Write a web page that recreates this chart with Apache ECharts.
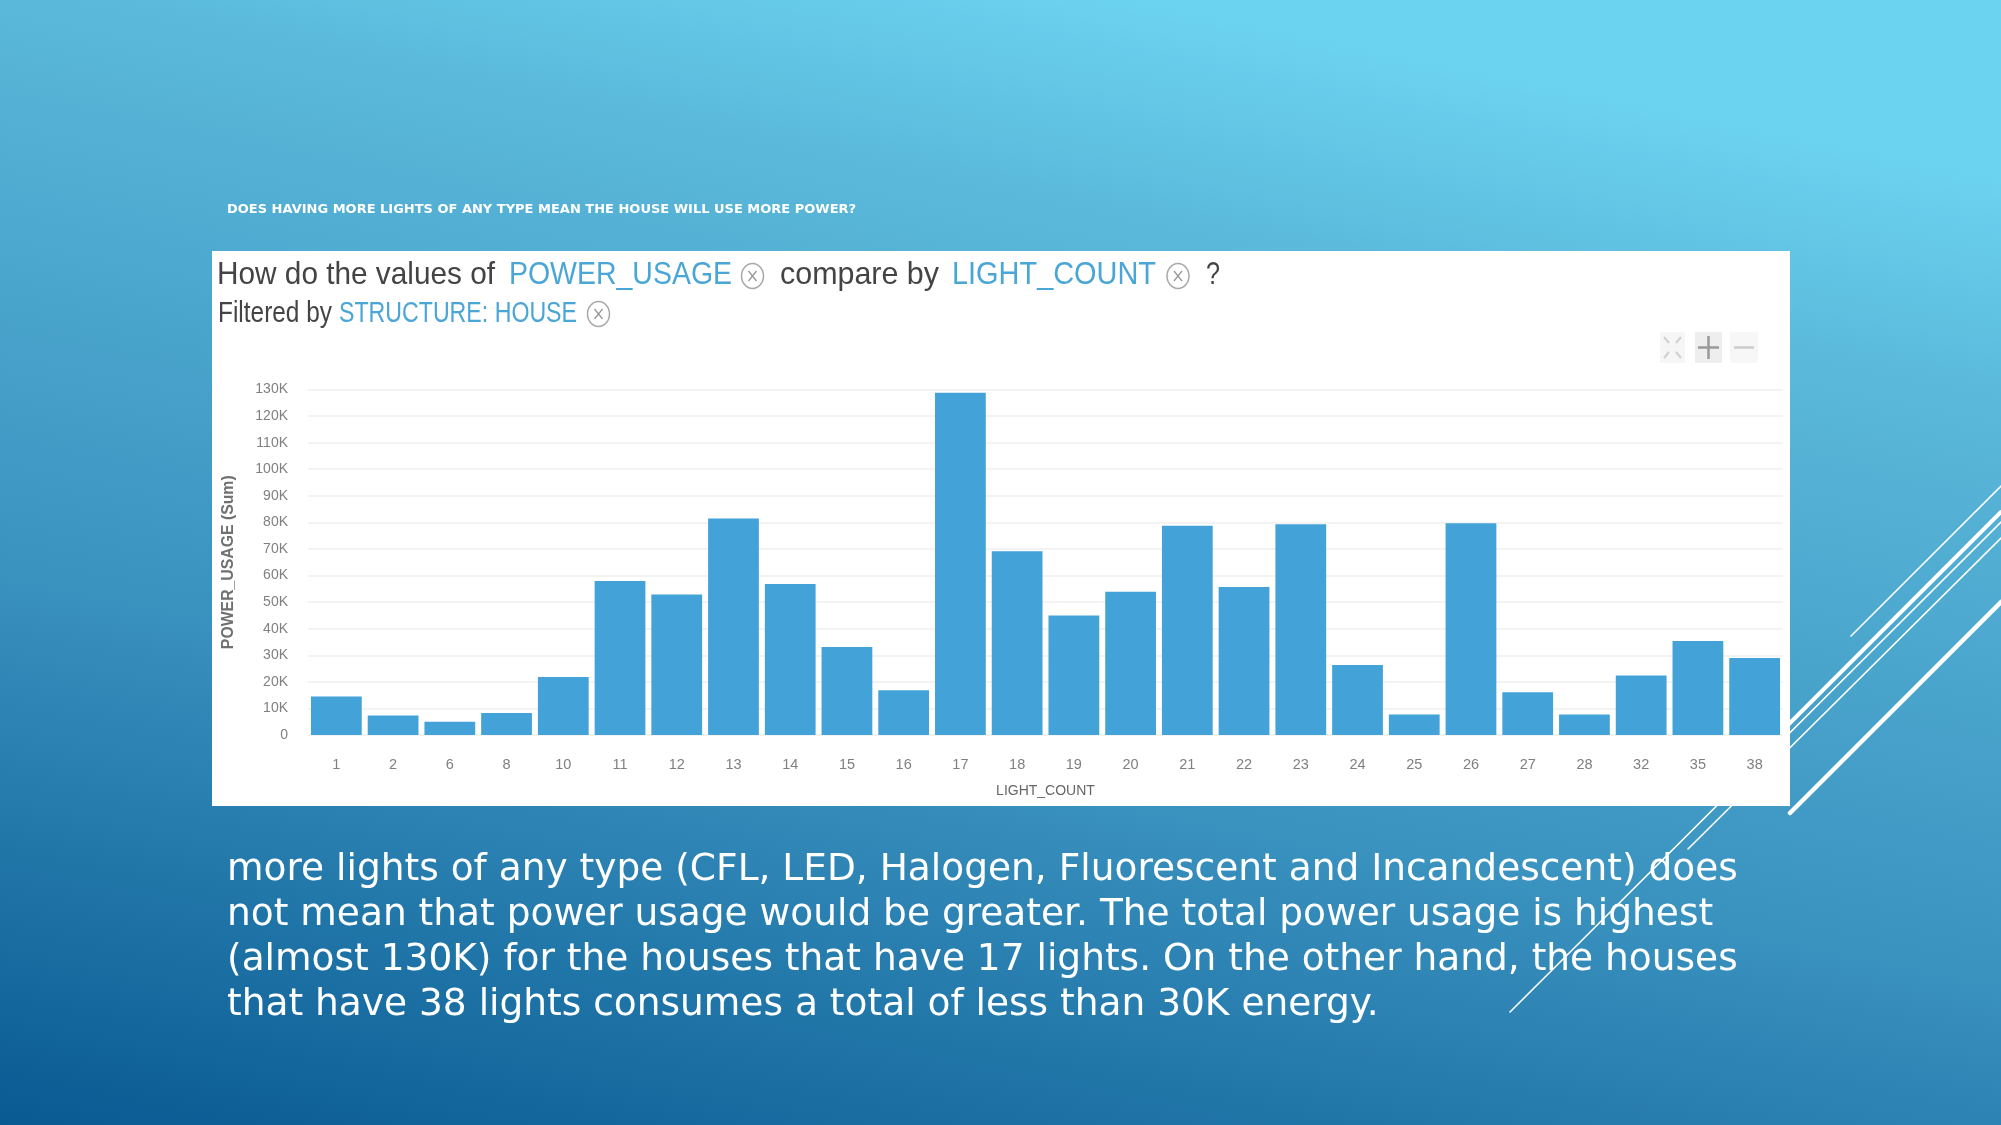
<!DOCTYPE html>
<html>
<head>
<meta charset="utf-8">
<title>Power usage by light count</title>
<script src="https://cdn.jsdelivr.net/npm/echarts@6/dist/echarts.min.js"></script>
<style>
  html, body { margin: 0; padding: 0; }
  #chart { width: 2001px; height: 1125px; }
</style>
</head>
<body>
<div id="chart"></div>
<script>
const lightCounts = ['1', '2', '6', '8', '10', '11', '12', '13', '14', '15', '16', '17', '18', '19', '20', '21', '22', '23', '24', '25', '26', '27', '28', '32', '35', '38'];
const powerUsage = [14500, 7300, 5000, 8300, 21800, 57900, 52900, 81500, 56800, 33100, 16800, 128800, 69100, 45000, 53900, 78700, 55700, 79300, 26300, 7700, 79700, 16100, 7700, 22400, 35400, 29000];
const slideTitle = 'DOES HAVING MORE LIGHTS OF ANY TYPE MEAN THE HOUSE WILL USE MORE POWER?';
const bodyLines = [
  'more lights of any type (CFL, LED, Halogen, Fluorescent and Incandescent) does',
  'not mean that power usage would be greater. The total power usage is highest',
  '(almost 130K) for the houses that have 17 lights. On the other hand, the houses',
  'that have 38 lights consumes a total of less than 30K energy.',
];

const sans = '"Liberation Sans", sans-serif';
const dejavu = '"DejaVu Sans", sans-serif';
const blue = '#4aa6d6';
const dark = '#444444';

const measureCtx = document.createElement('canvas').getContext('2d');

function deco(x1, y1, x2, y2, width) {
  return {
    type: 'line', z: -3, silent: true,
    shape: { x1, y1, x2, y2 },
    style: { stroke: '#ffffff', lineWidth: width, lineCap: 'round' },
  };
}

function label(text, x, y, size, color, family, weight) {
  return {
    type: 'text', z: 5, silent: true, x, y,
    style: { text, fill: color, font: `${weight || 'normal'} ${size}px ${family}`, textVerticalAlign: 'middle' },
  };
}

// the header is a squeezed screenshot, so fit each piece to its width
function squeezed(text, x, width, y, size, color) {
  measureCtx.font = `${size}px ${sans}`;
  const item = label(text, x, y, size, color, sans);
  item.scaleX = width / measureCtx.measureText(text).width;
  return item;
}

function closeIcon(cx, cy) {
  return [
    { type: 'ellipse', z: 5, silent: true, shape: { cx, cy, rx: 11, ry: 12.5 }, style: { fill: '#fff', stroke: '#a8a8a8', lineWidth: 1.5 } },
    { type: 'line', z: 5, silent: true, shape: { x1: cx - 4, y1: cy - 5, x2: cx + 4, y2: cy + 5 }, style: { stroke: '#999', lineWidth: 1.3 } },
    { type: 'line', z: 5, silent: true, shape: { x1: cx + 4, y1: cy - 5, x2: cx - 4, y2: cy + 5 }, style: { stroke: '#999', lineWidth: 1.3 } },
  ];
}

function line(x1, y1, x2, y2, stroke, width) {
  return { type: 'line', z: 5, silent: true, shape: { x1, y1, x2, y2 }, style: { stroke, lineWidth: width } };
}

function box(x, y, width, height, fill) {
  return { type: 'rect', z: 4, silent: true, shape: { x, y, width, height }, style: { fill } };
}

const graphics = [
  deco(1790, 813, 2001, 602, 4.5),
  deco(1851, 636, 2001, 486, 1.6),
  deco(1770, 743, 2001, 512, 4),
  deco(1510, 1012, 2001, 522, 1.6),
  deco(1688, 849, 2001, 538, 1.6),
  { type: 'rect', z: -2, silent: true, shape: { x: 212, y: 251, width: 1578, height: 555 }, style: { fill: '#ffffff' } },
  label(slideTitle, 227, 209.5, 13, '#ffffff', dejavu, 'bold'),
  squeezed('How do the values of', 217, 278, 275, 32, dark),
  squeezed('POWER_USAGE', 509, 223, 275, 32, blue),
  ...closeIcon(752.5, 276),
  squeezed('compare by', 780, 159, 275, 32, dark),
  squeezed('LIGHT_COUNT', 952, 204, 275, 32, blue),
  ...closeIcon(1178, 276),
  squeezed('?', 1206, 14, 275, 32, dark),
  squeezed('Filtered by', 218, 114, 314, 29, dark),
  squeezed('STRUCTURE: HOUSE', 339, 238, 314, 29, blue),
  ...closeIcon(598.5, 314),
  box(1660, 332, 25, 31, '#f6f6f6'),
  line(1664, 337, 1669, 343, '#d0d0d0', 2),
  line(1681, 337, 1676, 343, '#d0d0d0', 2),
  line(1664, 358, 1669, 352, '#d0d0d0', 2),
  line(1681, 358, 1676, 352, '#d0d0d0', 2),
  box(1695, 332, 27, 31, '#eeeeee'),
  line(1698, 347.5, 1719, 347.5, '#999999', 2.5),
  line(1708.5, 336, 1708.5, 359, '#999999', 2.5),
  box(1730, 332, 28, 31, '#f7f7f7'),
  line(1734, 347.5, 1754, 347.5, '#cccccc', 2.5),
];

bodyLines.forEach((text, i) => {
  graphics.push(label(text, 227, 870 + i * 45, 37.5, '#ffffff', dejavu));
});

const chart = echarts.init(document.getElementById('chart'));
chart.setOption({
  animation: false,
  backgroundColor: {
    type: 'linear',
    x: 0, y: 1125, x2: 267, y2: -177,
    global: true,
    colorStops: [
      { offset: 0, color: '#085a92' },
      { offset: 0.41, color: '#3a92bf' },
      { offset: 0.83, color: '#5ab8da' },
      { offset: 1, color: '#6bd2f0' },
    ],
  },
  grid: { left: 308, right: 218, top: 389.5, bottom: 390 },
  xAxis: {
    type: 'category',
    data: lightCounts,
    name: 'LIGHT_COUNT',
    nameLocation: 'middle',
    nameGap: 49,
    nameTextStyle: { fontFamily: sans, fontSize: 14, color: '#666666' },
    axisLine: { show: false },
    axisTick: { show: false },
    axisLabel: { margin: 22, interval: 0, fontFamily: sans, fontSize: 14.5, color: '#808080' },
  },
  yAxis: {
    type: 'value',
    min: 0,
    max: 130000,
    interval: 10000,
    name: 'POWER_USAGE (Sum)',
    nameLocation: 'middle',
    nameGap: 71,
    nameTextStyle: { fontFamily: sans, fontWeight: 'bold', fontSize: 15.8, color: '#707070' },
    axisLine: { show: false },
    axisTick: { show: false },
    axisLabel: {
      margin: 20,
      fontFamily: sans,
      fontSize: 14,
      color: '#808080',
      formatter: (value) => (value === 0 ? '0' : `${value / 1000}K`),
    },
    splitLine: { lineStyle: { color: '#f3f3f3', width: 2 } },
  },
  series: [
    {
      type: 'bar',
      data: powerUsage,
      barCategoryGap: '10.5%',
      itemStyle: { color: '#43a3d9' },
    },
  ],
  graphic: graphics,
});
</script>
</body>
</html>
